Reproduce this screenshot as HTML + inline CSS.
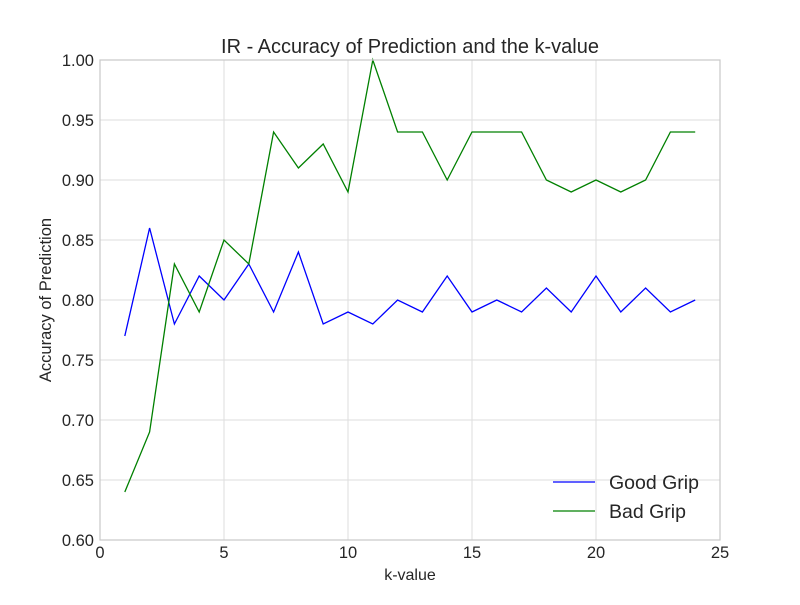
<!DOCTYPE html>
<html><head><meta charset="utf-8"><style>
html,body{margin:0;padding:0;background:#fff;}
svg text{font-family:"Liberation Sans",sans-serif;fill:#262626;}
</style></head><body>
<svg id="chart" width="800" height="600" xmlns="http://www.w3.org/2000/svg">
<rect width="800" height="600" fill="#fff"/>
<g id="grid"></g>
<g id="lines"></g>
<rect x="100" y="60" width="620" height="480" fill="none" stroke="#c8c8c8" stroke-width="1.2"/>
<g id="ticks"></g>
<text x="410" y="53" font-size="20" text-anchor="middle">IR - Accuracy of Prediction and the k-value</text>
<text x="410" y="580" font-size="16" text-anchor="middle">k-value</text>
<text x="0" y="0" font-size="16.5" text-anchor="middle" transform="translate(51,300) rotate(-90)">Accuracy of Prediction</text>
<g>
<line x1="553" y1="482" x2="595" y2="482" stroke="#0000ff" stroke-width="1.3"/>
<text x="609" y="489" font-size="19.5">Good Grip</text>
<line x1="553" y1="511" x2="595" y2="511" stroke="#008000" stroke-width="1.3"/>
<text x="609" y="518" font-size="19.5">Bad Grip</text>
</g>
</svg>
<script>
const kValues = [1,2,3,4,5,6,7,8,9,10,11,12,13,14,15,16,17,18,19,20,21,22,23,24];
const goodGrip = [0.77,0.86,0.78,0.82,0.80,0.83,0.79,0.84,0.78,0.79,0.78,0.80,0.79,0.82,0.79,0.80,0.79,0.81,0.79,0.82,0.79,0.81,0.79,0.80];
const badGrip = [0.64,0.69,0.83,0.79,0.85,0.83,0.94,0.91,0.93,0.89,1.00,0.94,0.94,0.90,0.94,0.94,0.94,0.90,0.89,0.90,0.89,0.90,0.94,0.94];
const xTicks = [0,5,10,15,20,25];
const yTicks = [0.60,0.65,0.70,0.75,0.80,0.85,0.90,0.95,1.00];

const NS = "http://www.w3.org/2000/svg";
const X0=100,X1=720,Y0=540,Y1=60, xMin=0,xMax=25,yMin=0.6,yMax=1.0;
function xs(v){return X0+(v-xMin)/(xMax-xMin)*(X1-X0);}
function ys(v){return Y0-(v-yMin)/(yMax-yMin)*(Y0-Y1);}
const grid=document.getElementById('grid'), ticks=document.getElementById('ticks'), lines=document.getElementById('lines');
function mk(tag,attrs,parent){const e=document.createElementNS(NS,tag);for(const k in attrs)e.setAttribute(k,attrs[k]);parent.appendChild(e);return e;}
xTicks.forEach(t=>{
  const l=mk('line',{x1:xs(t),x2:xs(t),y1:Y1,y2:Y0,stroke:'#dedede','stroke-width':1},grid);
  
  
  const tx=mk('text',{x:xs(t),y:558,'font-size':16.5,'text-anchor':'middle'},ticks);
  tx.textContent=t;
  
  
});
yTicks.forEach(t=>{
  const l=mk('line',{x1:X0,x2:X1,y1:ys(t),y2:ys(t),stroke:'#dedede','stroke-width':1},grid);
  
  
  const tx=mk('text',{x:94,y:ys(t)+6,'font-size':16.5,'text-anchor':'end'},ticks);
  tx.textContent=t.toFixed(2);
  
  
});
function series(vals,color,name){
  const pts=vals.map((v,i)=>xs(kValues[i]).toFixed(1)+','+ys(v).toFixed(1)).join(' ');
  const p=mk('polyline',{points:pts,fill:'none',stroke:color,'stroke-width':1.3},lines);
  
  
}
series(goodGrip,'#0000ff','good-grip-line');
series(badGrip,'#008000','bad-grip-line');
</script>
</body></html>
